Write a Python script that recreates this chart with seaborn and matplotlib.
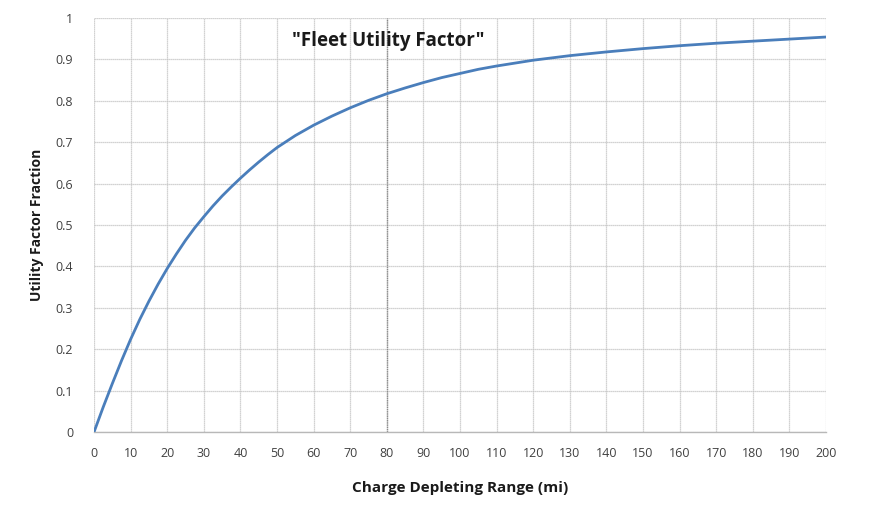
import matplotlib
matplotlib.use("Agg")
import matplotlib.pyplot as plt
import seaborn as sns
import pandas as pd

range_mi = [0, 2.5, 5, 7.5, 10, 12.5, 15, 17.5, 20, 22.5, 25, 27.5, 30, 32.5,
            35, 37.5, 40, 42.5, 45, 47.5, 50, 55, 60, 65, 70, 75, 80, 85, 90,
            95, 100, 105, 110, 120, 130, 140, 150, 160, 170, 180, 190, 200]
utility_factor = [0.0, 0.06, 0.117, 0.172, 0.224, 0.272, 0.316, 0.357, 0.395,
                  0.430, 0.463, 0.493, 0.520, 0.546, 0.570, 0.592, 0.613, 0.633,
                  0.652, 0.670, 0.687, 0.716, 0.741, 0.763, 0.783, 0.801, 0.817,
                  0.831, 0.844, 0.856, 0.866, 0.876, 0.884, 0.898, 0.909, 0.918,
                  0.926, 0.933, 0.939, 0.944, 0.949, 0.954]
x_ticks = list(range(0, 201, 10))
y_ticks = [0, 0.1, 0.2, 0.3, 0.4, 0.5, 0.6, 0.7, 0.8, 0.9, 1]
y_tick_labels = ["0", "0.1", "0.2", "0.3", "0.4", "0.5", "0.6", "0.7", "0.8", "0.9", "1"]
title = '"Fleet Utility Factor"'
x_label = "Charge Depleting Range (mi)"
y_label = "Utility Factor Fraction"
marker_x = 80

df = pd.DataFrame({"range": range_mi, "uf": utility_factor})

sns.set_theme(style="white")
plt.rcParams["font.family"] = ["Open Sans", "DejaVu Sans"]

fig = plt.figure(figsize=(8.88, 5.05), dpi=100)
ax = fig.add_axes([0.1059, 0.1446, 0.8243, 0.8198])

grid_color = "#c4c4c4"
for xt in x_ticks:
    ax.axvline(xt, color=grid_color, lw=0.9, ls=(0, (1, 0.6)), zorder=1)
for yt in y_ticks:
    ax.axhline(yt, color=grid_color, lw=0.9, ls=(0, (1, 0.6)), zorder=1)
ax.axvline(marker_x, color="#8a8a8a", lw=1.0, ls=(0, (1, 0.6)), zorder=1.5)

sns.lineplot(data=df, x="range", y="uf", ax=ax, color="#4A7EBB", lw=2.0, zorder=3)

ax.set_xlim(0, 200)
ax.set_ylim(0, 1)
ax.set_xticks(x_ticks)
ax.set_yticks(y_ticks)
ax.set_yticklabels(y_tick_labels)
ax.tick_params(axis="both", which="both", direction="out", length=5, width=0.9,
               color=grid_color, labelsize=9, labelcolor="#404040")
ax.tick_params(axis="y", length=12, pad=3)
ax.tick_params(axis="x", pad=6)
for side in ["top", "right", "left"]:
    ax.spines[side].set_visible(False)
ax.spines["bottom"].set_color("#b8b8b8")
ax.spines["bottom"].set_linewidth(1.0)

ax.set_xlabel(x_label, fontsize=11, fontweight="bold", color="#1a1a1a", labelpad=15)
ax.set_ylabel(y_label, fontsize=10, fontweight="bold", color="#1a1a1a", labelpad=8)
ax.text(80.5, 0.945, title, ha="center", va="center", fontsize=13.5,
        fontweight="bold", color="#1a1a1a", zorder=4)

fig.savefig("out.png", dpi=100, facecolor="white")
